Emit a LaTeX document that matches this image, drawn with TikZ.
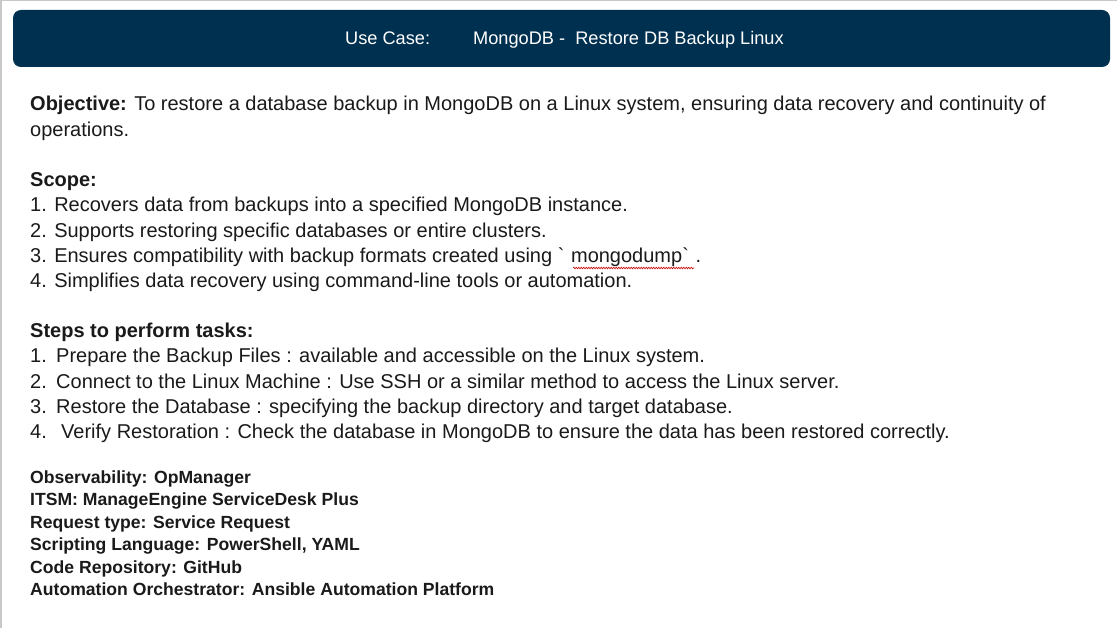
\documentclass[tikz,border=0pt]{standalone}
\usepackage{fontspec}
\setmainfont{Liberation Sans}[Ligatures=TeXOff]
\usetikzlibrary{decorations.pathmorphing}
\definecolor{navy}{HTML}{003050}
\definecolor{txt}{HTML}{1A1A1A}
\definecolor{frame}{HTML}{C8C8C8}
\tikzset{
  x=1pt,y=-1pt,
  body/.style={anchor=mid west,inner sep=0pt,text=txt,font=\fontsize{20}{24}\selectfont},
  meta/.style={anchor=mid west,inner sep=0pt,text=txt,font=\fontsize{17.6}{21}\selectfont\bfseries},
  head/.style={anchor=mid west,inner sep=0pt,text=white,font=\fontsize{18.2}{22}\selectfont},
}
\begin{document}
\begin{tikzpicture}
\useasboundingbox (0,0) rectangle (1117,628);
\fill[white] (0,0) rectangle (1117,628);
\draw[frame,line width=1.5pt] (0.75,628) -- (0.75,0.75) -- (1117,0.75);
\fill[navy,rounded corners=8pt] (13,10) rectangle (1110,67);
\node[head] (uc) at (345,42) {Use Case:};
\node[head] (title) at (473,42) {MongoDB -\ \ Restore DB Backup Linux};
\node[body] (obj1) at (30,108) {\textbf{Objective:} To restore a database backup in MongoDB on a Linux system, ensuring data recovery and continuity of};
\node[body] (obj2) at (30,134) {operations.};
\node[body] (scope) at (30,184) {\textbf{Scope:}};
\node[body] (s1) at (30,209) {1. Recovers data from backups into a specified MongoDB instance.};
\node[body] (s2) at (30,235) {2. Supports restoring specific databases or entire clusters.};
\node[body] (s3) at (30,260) {3. Ensures compatibility with backup formats created using `\,\,mongodump`\,\,.};
\node[body] (s4) at (30,285) {4. Simplifies data recovery using command-line tools or automation.};
\node[body] (steps) at (30,335) {\textbf{Steps to perform tasks:}};
\node[body] (n1) at (30,360) {1.};
\node[body] (t1) at (56,360) {Prepare the Backup Files : available and accessible on the Linux system.};
\node[body] (n2) at (30,386) {2.};
\node[body] (t2) at (56,386) {Connect to the Linux Machine : Use SSH or a similar method to access the Linux server.};
\node[body] (n3) at (30,411) {3.};
\node[body] (t3) at (56,411) {Restore the Database : specifying the backup directory and target database.};
\node[body] (n4) at (30,436) {4.};
\node[body] (t4) at (61,436) {Verify Restoration : Check the database in MongoDB to ensure the data has been restored correctly.};
\node[meta] (m1) at (30,481) {Observability: OpManager};
\node[meta] (m2) at (30,503) {ITSM: ManageEngine ServiceDesk Plus};
\node[meta] (m3) at (30,526) {Request type: Service Request};
\node[meta] (m4) at (30,548) {Scripting Language: PowerShell, YAML};
\node[meta] (m5) at (30,571) {Code Repository: GitHub};
\node[meta] (m6) at (30,593) {Automation Orchestrator: Ansible Automation Platform};
\draw[red!80!black,line width=0.6pt,decorate,decoration={snake,amplitude=0.8pt,segment length=2.5pt}] (573,268) -- (694,268);
\end{tikzpicture}
\end{document}
